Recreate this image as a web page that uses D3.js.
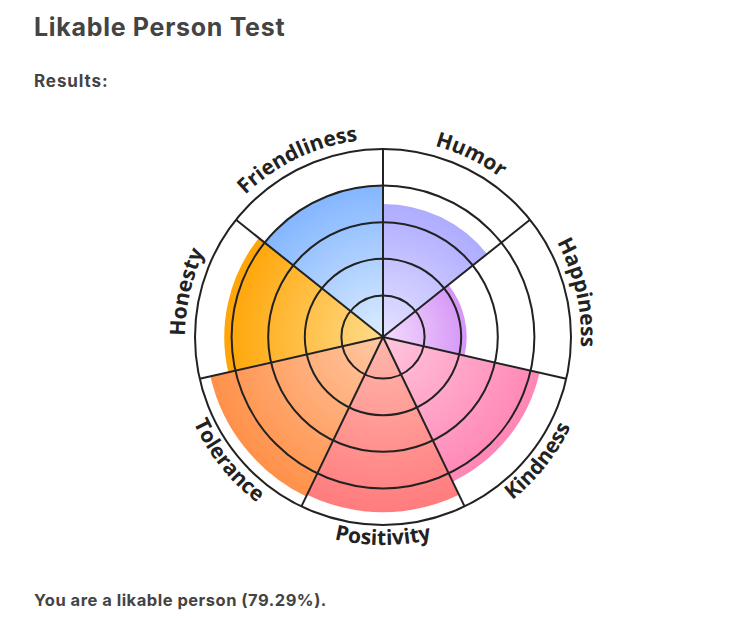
<!DOCTYPE html>
<html>
<head>
<meta charset="utf-8">
<script src="https://cdn.jsdelivr.net/npm/d3@7"></script>
<style>
  body { margin: 0; background: #fff; }
  .head { font-family: Inter, "Noto Sans", sans-serif; font-weight: 700; fill: #444; }
  .lbl { font-family: "Open Sans", "Noto Sans", sans-serif; font-weight: 700; fill: #222; font-size: 21px; }
</style>
</head>
<body>
<div id="chart"></div>
<script>
  const categories = ["Humor", "Happiness", "Kindness", "Positivity", "Tolerance", "Honesty", "Friendliness"];
  const scores = [70, 43, 85, 93, 94, 84, 80];
  const ringTicks = [20, 40, 60, 80, 100];
  const outerColors = ["#aeacff", "#d596f7", "#ff86b6", "#ff7c7e", "#ff914a", "#ffa506", "#84b6ff"];
  const innerColors = ["#e4e2ff", "#f4dcfc", "#ffc6dc", "#ffb8ac", "#ffc8a4", "#ffdc8c", "#dcedff"];
  const resultText = "You are a likable person (79.29%).";

  const width = 746;
  const height = 618;
  const cx = 383, cy = 337;

  const svg = d3.select("#chart")
    .append("svg")
    .attr("width", width)
    .attr("height", height);

  svg.append("text")
    .attr("class", "head")
    .attr("x", 34).attr("y", 36)
    .style("font-size", "25px")
    .style("letter-spacing", "0.7px")
    .text("Likable Person Test");

  svg.append("text")
    .attr("class", "head")
    .attr("x", 34).attr("y", 87)
    .style("font-size", "17px")
    .style("letter-spacing", "0.9px")
    .text("Results:");

  svg.append("text")
    .attr("class", "head")
    .attr("x", 34).attr("y", 606)
    .style("font-size", "16.5px")
    .style("letter-spacing", "0.5px")
    .text(resultText);

  const g = svg.append("g").attr("transform", `translate(${cx},${cy})`);

  const angle = d3.scaleBand().domain(categories).range([0, 2 * Math.PI]);
  const radius = d3.scaleLinear().domain([0, 100]).range([5, 188]);

  const data = categories.map((c, i) => ({ cat: c, value: scores[i], i }));

  // radial gradients, light in the middle
  const defs = svg.append("defs");
  data.forEach(d => {
    const grad = defs.append("radialGradient")
      .attr("id", "grad" + d.i)
      .attr("gradientUnits", "userSpaceOnUse")
      .attr("cx", 0).attr("cy", 0)
      .attr("r", radius(d.value));
    grad.append("stop").attr("offset", "0%").attr("stop-color", innerColors[d.i]);
    grad.append("stop").attr("offset", "100%").attr("stop-color", outerColors[d.i]);
  });

  const arc = d3.arc()
    .innerRadius(0)
    .outerRadius(d => radius(d.value))
    .startAngle(d => angle(d.cat))
    .endAngle(d => angle(d.cat) + angle.bandwidth());

  g.selectAll("path.slice")
    .data(data)
    .enter()
    .append("path")
    .attr("class", "slice")
    .attr("d", arc)
    .attr("fill", d => `url(#grad${d.i})`);

  // grid rings
  g.selectAll("circle.ring")
    .data(ringTicks)
    .enter()
    .append("circle")
    .attr("r", d => radius(d))
    .attr("fill", "none")
    .attr("stroke", "#222")
    .attr("stroke-width", 2);

  // spokes
  g.selectAll("line.spoke")
    .data(categories)
    .enter()
    .append("line")
    .attr("x1", 0).attr("y1", 0)
    .attr("x2", d => radius(100) * Math.sin(angle(d)))
    .attr("y2", d => -radius(100) * Math.cos(angle(d)))
    .attr("stroke", "#222")
    .attr("stroke-width", 2);

  // curved labels
  const pt = (r, a) => [r * Math.sin(a), -r * Math.cos(a)];
  const span = 0.6;
  data.forEach(d => {
    const mid = angle(d.cat) + angle.bandwidth() / 2;
    const bottom = mid > Math.PI / 2 && mid < 3 * Math.PI / 2;
    let p;
    if (!bottom) {
      const r = 198;
      const a = pt(r, mid - span), b = pt(r, mid + span);
      p = `M${a[0]},${a[1]} A${r},${r} 0 0 1 ${b[0]},${b[1]}`;
    } else {
      const r = 208;
      const a = pt(r, mid + span), b = pt(r, mid - span);
      p = `M${a[0]},${a[1]} A${r},${r} 0 0 0 ${b[0]},${b[1]}`;
    }
    defs.append("path").attr("id", "lp" + d.i).attr("d", p);
    g.append("text")
      .attr("class", "lbl")
      .append("textPath")
      .attr("href", "#lp" + d.i)
      .attr("startOffset", "50%")
      .attr("text-anchor", "middle")
      .text(d.cat);
  });
</script>
</body>
</html>
